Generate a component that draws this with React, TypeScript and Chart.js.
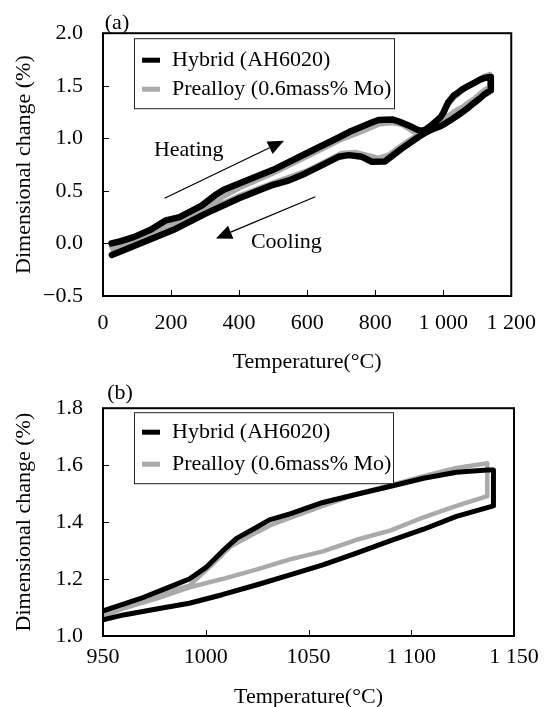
import React, { useEffect, useRef } from "react";
import { Chart, registerables } from "chart.js";

Chart.register(...registerables);

const FONT = "'Liberation Serif', 'Times New Roman', Times, serif";

// ---------------- data (temperature °C, dimensional change %) ----------------
const hybridHeatT = [25, 50, 90, 140, 185, 225, 290, 330, 355, 400, 500, 600, 700, 730, 760, 790, 810, 850, 870, 900, 925, 940, 950, 968, 984, 992, 1000, 1008, 1015, 1025, 1031, 1041, 1057, 1073, 1090, 1106, 1122, 1137, 1140];
const hybridHeatV = [0.0, 0.02, 0.06, 0.13, 0.22, 0.25, 0.36, 0.46, 0.51, 0.57, 0.70, 0.86, 1.02, 1.07, 1.11, 1.15, 1.175, 1.18, 1.16, 1.12, 1.08, 1.07, 1.088, 1.131, 1.177, 1.2, 1.24, 1.297, 1.343, 1.383, 1.408, 1.429, 1.469, 1.497, 1.526, 1.554, 1.575, 1.583, 1.583];
const hybridCoolT = [1140, 1122, 1106, 1090, 1073, 1057, 1041, 1025, 1008, 992, 976, 960, 950, 926, 877, 829, 790, 761, 722, 692, 644, 595, 547, 498, 400, 303, 206, 109, 26];
const hybridCoolV = [1.457, 1.42, 1.375, 1.335, 1.29, 1.25, 1.215, 1.18, 1.145, 1.115, 1.095, 1.074, 1.057, 1.01, 0.9, 0.78, 0.777, 0.824, 0.84, 0.824, 0.745, 0.666, 0.6, 0.555, 0.43, 0.286, 0.127, 0.0, -0.11];

const preHeatT = [25, 100, 180, 250, 300, 350, 400, 500, 600, 700, 760, 810, 850, 880, 905, 925, 940, 950, 968, 984, 992, 1004, 1012, 1022, 1033, 1044, 1057, 1073, 1090, 1106, 1122, 1137];
const preHeatV = [-0.03, 0.045, 0.18, 0.26, 0.33, 0.44, 0.53, 0.67, 0.83, 0.99, 1.065, 1.135, 1.15, 1.13, 1.08, 1.04, 1.05, 1.069, 1.12, 1.16, 1.177, 1.257, 1.314, 1.354, 1.394, 1.423, 1.457, 1.497, 1.53, 1.561, 1.59, 1.607];
const preCoolT = [1137, 1122, 1106, 1090, 1073, 1057, 1041, 1025, 1008, 992, 976, 960, 950, 926, 900, 877, 840, 810, 780, 740, 700, 650, 600, 500, 400, 300, 200, 100, 30];
const preCoolV = [1.491, 1.457, 1.417, 1.371, 1.337, 1.297, 1.269, 1.234, 1.2, 1.171, 1.131, 1.097, 1.074, 1.03, 0.98, 0.93, 0.84, 0.81, 0.835, 0.865, 0.855, 0.77, 0.69, 0.575, 0.45, 0.305, 0.145, 0.025, -0.065];

const seriesLabels = ["Hybrid (AH6020)", "Prealloy (0.6mass% Mo)"];

// ticks
const xTicksA = [0, 200, 400, 600, 800, 1000, 1200];
const xLabelsA = ["0", "200", "400", "600", "800", "1 000", "1 200"];
const yTicksA = [-0.5, 0.0, 0.5, 1.0, 1.5, 2.0];
const yLabelsA = ["\u22120.5", "0.0", "0.5", "1.0", "1.5", "2.0"];
const xTicksB = [950, 1000, 1050, 1100, 1150];
const xLabelsB = ["950", "1000", "1050", "1 100", "1 150"];
const yTicksB = [1.0, 1.2, 1.4, 1.6, 1.8];
const yLabelsB = ["1.0", "1.2", "1.4", "1.6", "1.8"];

// annotations (data coordinates of panel a)
const heatingArrow = [[181, 0.43], [532, 0.976]];
const coolingArrow = [[624, 0.444], [332, 0.048]];
const heatingLabel = { text: "Heating", at: [252, 0.888] };
const coolingLabel = { text: "Cooling", at: [539, 0.013] };

const xTitle = "Temperature(°C)";
const yTitle = "Dimensional change (%)";

// ---------------------------------------------------------------------------
const zip = (t: number[], v: number[]) => t.map((x, i) => ({ x, y: v[i] }));
const hybridLoop = [...zip(hybridHeatT, hybridHeatV), ...zip(hybridCoolT, hybridCoolV)];
const preLoop = [...zip(preHeatT, preHeatV), ...zip(preCoolT, preCoolV)];

const frame = {
  id: "frame",
  afterDatasetsDraw(chart: any, _args: any, opts: any) {
    const { ctx, chartArea: a, scales } = chart;
    ctx.save();
    ctx.strokeStyle = "#000";
    ctx.lineWidth = 1;
    ctx.beginPath();
    scales.x.ticks.forEach((t: any) => {
      const px = Math.round(scales.x.getPixelForValue(t.value)) + 0.5;
      if (px > a.left + 2 && px < a.right - 2) {
        ctx.moveTo(px, a.bottom);
        ctx.lineTo(px, a.bottom - 6);
      }
    });
    scales.y.ticks.forEach((t: any) => {
      const py = Math.round(scales.y.getPixelForValue(t.value)) + 0.5;
      if (py > a.top + 2 && py < a.bottom - 2) {
        ctx.moveTo(a.left, py);
        ctx.lineTo(a.left + 6, py);
      }
    });
    ctx.stroke();
    ctx.lineWidth = 2;
    ctx.strokeRect(a.left, a.top, a.right - a.left, a.bottom - a.top);

    // panel label
    ctx.fillStyle = "#000";
    ctx.font = `22px ${FONT}`;
    ctx.textAlign = "center";
    ctx.textBaseline = "middle";
    ctx.fillText(opts.panel, a.left + opts.panelDx, a.top + opts.panelDy);

    // legend box
    const bx = a.left + opts.legendDx;
    const by = a.top + opts.legendDy;
    ctx.fillStyle = "#fff";
    ctx.fillRect(bx, by, opts.legendW, opts.legendH);
    ctx.strokeStyle = "#222";
    ctx.lineWidth = 1;
    ctx.strokeRect(bx + 0.5, by + 0.5, opts.legendW, opts.legendH);
    chart.data.datasets.forEach((ds: any, i: number) => {
      const ry = by + opts.rows[i];
      ctx.strokeStyle = ds.borderColor;
      ctx.lineWidth = 5;
      ctx.lineCap = "butt";
      ctx.beginPath();
      ctx.moveTo(bx + 8, ry);
      ctx.lineTo(bx + 26, ry);
      ctx.stroke();
      ctx.fillStyle = "#000";
      ctx.textAlign = "left";
      ctx.textBaseline = "middle";
      ctx.fillText(ds.label, bx + 38, ry);
    });

    // annotations
    (opts.arrows || []).forEach((ar: number[][]) => {
      const x1 = scales.x.getPixelForValue(ar[0][0]);
      const y1 = scales.y.getPixelForValue(ar[0][1]);
      const x2 = scales.x.getPixelForValue(ar[1][0]);
      const y2 = scales.y.getPixelForValue(ar[1][1]);
      const ang = Math.atan2(y2 - y1, x2 - x1);
      const L = 16, W = 7;
      const hx = x2 - L * Math.cos(ang), hy = y2 - L * Math.sin(ang);
      ctx.strokeStyle = "#000";
      ctx.fillStyle = "#000";
      ctx.lineWidth = 1.3;
      ctx.beginPath();
      ctx.moveTo(x1, y1);
      ctx.lineTo(hx, hy);
      ctx.stroke();
      ctx.beginPath();
      ctx.moveTo(x2, y2);
      ctx.lineTo(hx - W * Math.sin(ang), hy + W * Math.cos(ang));
      ctx.lineTo(hx + W * Math.sin(ang), hy - W * Math.cos(ang));
      ctx.closePath();
      ctx.fill();
    });
    (opts.texts || []).forEach((t: any) => {
      ctx.fillStyle = "#000";
      ctx.textAlign = "center";
      ctx.textBaseline = "middle";
      ctx.fillText(t.text, scales.x.getPixelForValue(t.at[0]), scales.y.getPixelForValue(t.at[1]));
    });
    ctx.restore();
  },
};

function makeConfig(p: any): any {
  const tickFont = { family: FONT, size: 22 };
  return {
    type: "scatter",
    plugins: [frame],
    data: {
      datasets: [
        { label: seriesLabels[0], data: hybridLoop, showLine: true, borderColor: "#000000", backgroundColor: "#000000", borderWidth: p.blackW, pointRadius: 0, borderJoinStyle: "round", borderCapStyle: "round", tension: 0, clip: 0 },
        { label: seriesLabels[1], data: preLoop, showLine: true, borderColor: "#aaaaaa", backgroundColor: "#aaaaaa", borderWidth: p.grayW, pointRadius: 0, borderJoinStyle: "round", borderCapStyle: "round", tension: 0, clip: 0 },
      ],
    },
    options: {
      responsive: false,
      animation: false,
      devicePixelRatio: 1,
      events: [],
      layout: { padding: { left: 0, top: p.top, right: p.right, bottom: 0 } },
      plugins: {
        legend: { display: false },
        tooltip: { enabled: false },
        frame: p.frame,
      },
      scales: {
        x: {
          type: "linear",
          min: p.xMin,
          max: p.xMax,
          afterBuildTicks: (s: any) => { s.ticks = p.xTicks.map((v: number) => ({ value: v })); },
          afterFit: (s: any) => { s.height = p.xH; },
          ticks: { font: tickFont, color: "#000", padding: p.xPad, maxRotation: 0, autoSkip: false, callback: (_v: any, i: number) => p.xLabels[i] },
          grid: { display: false, drawTicks: false },
          border: { display: false },
          title: { display: true, text: xTitle, font: tickFont, color: "#000", padding: { top: 0, bottom: p.xTitlePad } },
        },
        y: {
          type: "linear",
          min: p.yMin,
          max: p.yMax,
          afterBuildTicks: (s: any) => { s.ticks = p.yTicks.map((v: number) => ({ value: v })); },
          afterFit: (s: any) => { s.width = p.yW; },
          ticks: { font: tickFont, color: "#000", padding: 20, autoSkip: false, callback: (_v: any, i: number) => p.yLabels[i] },
          grid: { display: false, drawTicks: false },
          border: { display: false },
          title: { display: true, text: yTitle, font: tickFont, color: "#000", padding: { top: 11, bottom: 0 } },
        },
      },
    },
  };
}

export default function App() {
  const refA = useRef<HTMLCanvasElement | null>(null);
  const refB = useRef<HTMLCanvasElement | null>(null);

  useEffect(() => {
    Chart.defaults.font.family = FONT;
    Chart.defaults.color = "#000";
    const a = new Chart(refA.current as HTMLCanvasElement, makeConfig({
      xMin: 0, xMax: 1200, yMin: -0.5, yMax: 2.0,
      xTicks: xTicksA, xLabels: xLabelsA, yTicks: yTicksA, yLabels: yLabelsA,
      top: 33, right: 36, xH: 375 - 296, yW: 103, xPad: 14, xTitlePad: 0,
      blackW: 6.5, grayW: 5.5,
      frame: {
        panel: "(a)", panelDx: 14, panelDy: -10,
        legendDx: 31, legendDy: 5, legendW: 260, legendH: 70, rows: [22, 51],
        arrows: [heatingArrow, coolingArrow],
        texts: [heatingLabel, coolingLabel],
      },
    }));
    const b = new Chart(refB.current as HTMLCanvasElement, makeConfig({
      xMin: 950, xMax: 1150, yMin: 1.0, yMax: 1.8,
      xTicks: xTicksB, xLabels: xLabelsB, yTicks: yTicksB, yLabels: yLabelsB,
      top: 27, right: 36, xH: 340 - 261, yW: 103, xPad: 8, xTitlePad: 5,
      blackW: 5, grayW: 4.5,
      frame: {
        panel: "(b)", panelDx: 17, panelDy: -15,
        legendDx: 31, legendDy: 4, legendW: 259, legendH: 71, rows: [20, 52],
        arrows: [], texts: [],
      },
    }));
    return () => { a.destroy(); b.destroy(); };
  }, []);

  return (
    <div style={{ position: "absolute", left: 0, top: 0, width: 550, height: 707, overflow: "hidden", background: "#fff" }}>
      <canvas ref={refA} width={550} height={375} style={{ position: "absolute", left: 0, top: 0, width: 550, height: 375 }} />
      <canvas ref={refB} width={550} height={340} style={{ position: "absolute", left: 0, top: 375, width: 550, height: 340 }} />
    </div>
  );
}
